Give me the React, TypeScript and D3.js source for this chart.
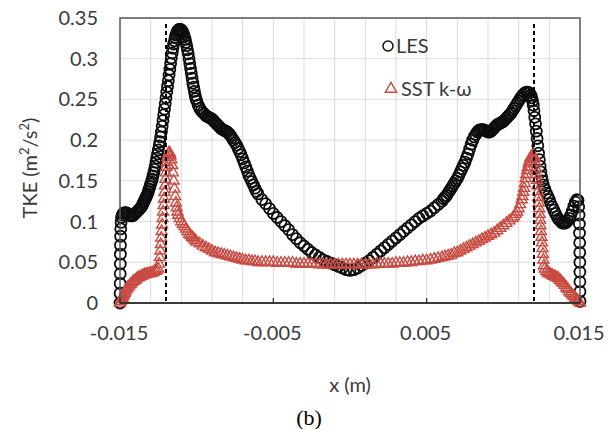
import React from "react";
import * as d3 from "d3";

// ---- data (x in m, TKE in m^2/s^2) ----
const lesPoints: [number, number][] = [
  [-0.015, 0.0], [-0.014995, 0.012], [-0.01499, 0.024], [-0.014985, 0.036], [-0.01498, 0.048],
  [-0.014975, 0.06], [-0.01497, 0.071], [-0.01496, 0.082], [-0.01495, 0.091], [-0.01493, 0.099],
  [-0.0149, 0.105], [-0.01485, 0.108], [-0.0148, 0.11], [-0.0147, 0.111], [-0.0146, 0.111],
  [-0.0145, 0.11], [-0.0144, 0.108], [-0.0143, 0.107], [-0.0142, 0.107], [-0.0141, 0.108],
  [-0.014, 0.11], [-0.0139, 0.112], [-0.0138, 0.114], [-0.0137, 0.116],
  [-0.0136, 0.118], [-0.01355, 0.12], [-0.0135, 0.122], [-0.01345, 0.124], [-0.0134, 0.126],
  [-0.01335, 0.128], [-0.0133, 0.13], [-0.01325, 0.132], [-0.0132, 0.134], [-0.01315, 0.137],
  [-0.0131, 0.14], [-0.01305, 0.143], [-0.013, 0.146], [-0.01295, 0.149], [-0.0129, 0.152],
  [-0.01285, 0.156], [-0.0128, 0.16], [-0.01275, 0.164], [-0.0127, 0.168], [-0.01265, 0.173],
  [-0.0126, 0.178], [-0.01255, 0.183], [-0.0125, 0.188], [-0.01245, 0.193], [-0.0124, 0.198],
  [-0.01235, 0.204], [-0.0123, 0.21], [-0.01225, 0.217], [-0.0122, 0.224], [-0.01215, 0.231],
  [-0.0121, 0.238], [-0.01205, 0.245], [-0.012, 0.252], [-0.01195, 0.259], [-0.0119, 0.266],
  [-0.01185, 0.273], [-0.0118, 0.28], [-0.01175, 0.287], [-0.0117, 0.294], [-0.01165, 0.301],
  [-0.0116, 0.307], [-0.01155, 0.313], [-0.0115, 0.318], [-0.01145, 0.322], [-0.0114, 0.326],
  [-0.01135, 0.329], [-0.0113, 0.332], [-0.01125, 0.334], [-0.0112, 0.335], [-0.01115, 0.336],
  [-0.0111, 0.336], [-0.01105, 0.336], [-0.011, 0.335], [-0.01095, 0.334], [-0.0109, 0.332],
  [-0.01085, 0.33], [-0.0108, 0.327], [-0.01075, 0.324], [-0.0107, 0.32], [-0.01065, 0.316],
  [-0.0106, 0.311], [-0.01055, 0.306], [-0.0105, 0.3], [-0.01045, 0.294], [-0.0104, 0.288],
  [-0.01035, 0.282], [-0.0103, 0.276], [-0.01025, 0.27], [-0.0102, 0.265], [-0.01015, 0.26],
  [-0.0101, 0.255], [-0.01005, 0.251], [-0.01, 0.248], [-0.0099, 0.243], [-0.0098, 0.239],
  [-0.0097, 0.236], [-0.0096, 0.234], [-0.0095, 0.232], [-0.0094, 0.23], [-0.0093, 0.229],
  [-0.0092, 0.228], [-0.0091, 0.227], [-0.009, 0.226], [-0.0089, 0.224], [-0.0088, 0.222],
  [-0.0087, 0.22], [-0.0086, 0.218], [-0.0085, 0.216], [-0.0084, 0.214], [-0.0083, 0.213],
  [-0.0082, 0.212], [-0.0081, 0.211], [-0.008, 0.21], [-0.0079, 0.208], [-0.0078, 0.206],
  [-0.0077, 0.203], [-0.0076, 0.2], [-0.0075, 0.197], [-0.0074, 0.194], [-0.0073, 0.19],
  [-0.0072, 0.186], [-0.0071, 0.182], [-0.007, 0.177], [-0.0069, 0.172], [-0.0068, 0.167],
  [-0.0067, 0.162], [-0.0066, 0.157], [-0.0065, 0.153], [-0.0064, 0.149], [-0.0063, 0.145],
  [-0.0062, 0.141], [-0.0061, 0.137], [-0.006, 0.134], [-0.00575, 0.127], [-0.0055, 0.122],
  [-0.00525, 0.116], [-0.005, 0.11], [-0.00475, 0.105], [-0.0045, 0.1], [-0.00425, 0.095],
  [-0.004, 0.09], [-0.00375, 0.084], [-0.0035, 0.079], [-0.00325, 0.074], [-0.003, 0.07],
  [-0.00275, 0.066], [-0.0025, 0.062], [-0.00225, 0.059], [-0.002, 0.056], [-0.00175, 0.053],
  [-0.0015, 0.051], [-0.00125, 0.049], [-0.001, 0.047], [-0.00075, 0.045], [-0.0005, 0.043],
  [-0.00025, 0.041], [0.0, 0.04], [0.00025, 0.041], [0.0005, 0.043], [0.00075, 0.046],
  [0.001, 0.049], [0.00125, 0.052], [0.0015, 0.056], [0.00175, 0.06], [0.002, 0.064],
  [0.00225, 0.068], [0.0025, 0.072], [0.00275, 0.076], [0.003, 0.08], [0.00325, 0.084],
  [0.0035, 0.088], [0.00375, 0.092], [0.004, 0.096], [0.00425, 0.1], [0.0045, 0.104],
  [0.00475, 0.107], [0.005, 0.11], [0.00525, 0.113], [0.0055, 0.117], [0.00575, 0.121],
  [0.006, 0.125], [0.0061, 0.128], [0.0062, 0.13], [0.0063, 0.132], [0.0064, 0.135],
  [0.0065, 0.138], [0.0066, 0.141], [0.0067, 0.144], [0.0068, 0.147], [0.0069, 0.15],
  [0.007, 0.153], [0.0071, 0.157], [0.0072, 0.161], [0.0073, 0.165], [0.0074, 0.169],
  [0.0075, 0.173], [0.0076, 0.178], [0.0077, 0.183], [0.0078, 0.189], [0.0079, 0.195],
  [0.008, 0.2], [0.0081, 0.204], [0.0082, 0.207], [0.0083, 0.21], [0.0084, 0.212],
  [0.0085, 0.213], [0.0086, 0.213], [0.0087, 0.213], [0.0088, 0.212], [0.0089, 0.211],
  [0.009, 0.21], [0.0091, 0.21], [0.0092, 0.211], [0.0093, 0.213], [0.0094, 0.215],
  [0.0095, 0.217], [0.0096, 0.219], [0.0097, 0.22], [0.0098, 0.221], [0.0099, 0.222],
  [0.01, 0.223], [0.0101, 0.225], [0.0102, 0.227], [0.0103, 0.229], [0.0104, 0.231],
  [0.0105, 0.233], [0.0106, 0.236], [0.0107, 0.239], [0.0108, 0.242], [0.0109, 0.245],
  [0.011, 0.248], [0.0111, 0.251], [0.0112, 0.254], [0.0113, 0.256], [0.0114, 0.258],
  [0.0115, 0.259], [0.0116, 0.259], [0.0117, 0.258], [0.0118, 0.255], [0.01185, 0.252],
  [0.0119, 0.248], [0.01195, 0.243], [0.012, 0.236], [0.01205, 0.228], [0.0121, 0.22],
  [0.01215, 0.211], [0.0122, 0.202], [0.01225, 0.193], [0.0123, 0.184], [0.01235, 0.176],
  [0.0124, 0.168], [0.01245, 0.161], [0.0125, 0.155], [0.01255, 0.15], [0.0126, 0.145],
  [0.0127, 0.14], [0.0128, 0.135], [0.0129, 0.131], [0.013, 0.127], [0.0131, 0.122],
  [0.0132, 0.118], [0.0133, 0.114], [0.0134, 0.11], [0.0135, 0.106], [0.0136, 0.103],
  [0.0137, 0.101], [0.0138, 0.099], [0.0139, 0.098], [0.014, 0.098], [0.0141, 0.099],
  [0.0142, 0.101], [0.0143, 0.104], [0.0144, 0.108], [0.0145, 0.113], [0.0146, 0.119],
  [0.0147, 0.124], [0.0148, 0.127], [0.01487, 0.126], [0.01491, 0.118], [0.01494, 0.108],
  [0.01496, 0.097], [0.01497, 0.086], [0.01498, 0.074], [0.014985, 0.062], [0.01499, 0.05],
  [0.014993, 0.038], [0.014996, 0.026], [0.014998, 0.014], [0.015, 0.002],
];

const sstPoints: [number, number][] = [
  [-0.015, 0.0], [-0.01495, 0.002], [-0.0149, 0.004], [-0.01485, 0.006], [-0.0148, 0.008],
  [-0.01475, 0.01], [-0.0147, 0.012], [-0.01465, 0.014], [-0.0146, 0.016], [-0.01455, 0.018],
  [-0.0145, 0.019], [-0.0144, 0.021], [-0.0143, 0.023], [-0.0142, 0.025], [-0.0141, 0.027],
  [-0.014, 0.028], [-0.0139, 0.03], [-0.0138, 0.031], [-0.0137, 0.032], [-0.0136, 0.033],
  [-0.0135, 0.034], [-0.0134, 0.035], [-0.0133, 0.035], [-0.0132, 0.036], [-0.0131, 0.036],
  [-0.013, 0.037], [-0.0129, 0.037], [-0.0128, 0.038], [-0.0127, 0.039], [-0.0126, 0.04],
  [-0.0125, 0.042], [-0.01245, 0.048], [-0.0124, 0.056], [-0.01237, 0.064], [-0.01234, 0.072],
  [-0.01231, 0.08], [-0.01228, 0.088], [-0.01225, 0.096], [-0.01222, 0.104], [-0.01219, 0.112],
  [-0.01216, 0.12], [-0.01213, 0.128], [-0.0121, 0.136], [-0.01207, 0.144], [-0.01204, 0.152],
  [-0.01201, 0.16], [-0.01198, 0.167], [-0.01195, 0.173], [-0.0119, 0.179], [-0.01185, 0.183],
  [-0.0118, 0.185], [-0.01175, 0.184], [-0.0117, 0.181], [-0.01165, 0.176], [-0.0116, 0.169],
  [-0.01155, 0.16], [-0.0115, 0.15], [-0.01145, 0.14], [-0.0114, 0.131], [-0.01135, 0.123],
  [-0.0113, 0.117], [-0.01125, 0.112], [-0.0112, 0.108], [-0.0111, 0.104], [-0.011, 0.1],
  [-0.0109, 0.097], [-0.0108, 0.094], [-0.0107, 0.091], [-0.0106, 0.088], [-0.0105, 0.085],
  [-0.0104, 0.083], [-0.0103, 0.081], [-0.0102, 0.079], [-0.0101, 0.077], [-0.01, 0.075],
  [-0.0098, 0.073], [-0.0096, 0.07], [-0.0094, 0.068], [-0.0092, 0.066], [-0.009, 0.064],
  [-0.0088, 0.062], [-0.0086, 0.061], [-0.0084, 0.06], [-0.0082, 0.059], [-0.008, 0.058],
  [-0.0078, 0.057], [-0.0076, 0.056], [-0.0074, 0.055], [-0.0072, 0.054], [-0.007, 0.053],
  [-0.0068, 0.052], [-0.0066, 0.052], [-0.0064, 0.051], [-0.0062, 0.051], [-0.006, 0.05],
  [-0.00575, 0.05], [-0.0055, 0.05], [-0.00525, 0.05], [-0.005, 0.05], [-0.00475, 0.049],
  [-0.0045, 0.049], [-0.00425, 0.049], [-0.004, 0.049], [-0.00375, 0.049], [-0.0035, 0.048],
  [-0.00325, 0.048], [-0.003, 0.048], [-0.00275, 0.048], [-0.0025, 0.048], [-0.00225, 0.048],
  [-0.002, 0.047], [-0.00175, 0.047], [-0.0015, 0.047], [-0.00125, 0.047], [-0.001, 0.047],
  [-0.00075, 0.047], [-0.0005, 0.047], [-0.00025, 0.047], [0.0, 0.047], [0.00025, 0.047],
  [0.0005, 0.047], [0.00075, 0.047], [0.001, 0.047], [0.00125, 0.047], [0.0015, 0.047],
  [0.00175, 0.048], [0.002, 0.048], [0.00225, 0.048], [0.0025, 0.048], [0.00275, 0.048],
  [0.003, 0.049], [0.00325, 0.049], [0.0035, 0.049], [0.00375, 0.05], [0.004, 0.05],
  [0.00425, 0.051], [0.0045, 0.051], [0.00475, 0.052], [0.005, 0.052], [0.00525, 0.053],
  [0.0055, 0.054], [0.00575, 0.055], [0.006, 0.056], [0.0062, 0.057], [0.0064, 0.058],
  [0.0066, 0.059], [0.0068, 0.061], [0.007, 0.062], [0.0072, 0.064], [0.0074, 0.066],
  [0.0076, 0.068], [0.0078, 0.07], [0.008, 0.072], [0.0082, 0.074], [0.0084, 0.076],
  [0.0086, 0.078], [0.0088, 0.08], [0.009, 0.082], [0.0092, 0.084], [0.0094, 0.086],
  [0.0096, 0.089], [0.0098, 0.092], [0.01, 0.095], [0.0102, 0.098], [0.0104, 0.101],
  [0.0106, 0.104], [0.0107, 0.106], [0.0108, 0.109], [0.0109, 0.112], [0.011, 0.116],
  [0.0111, 0.121], [0.0112, 0.127], [0.01125, 0.131], [0.0113, 0.136], [0.01135, 0.141],
  [0.0114, 0.147], [0.01145, 0.153], [0.0115, 0.158], [0.01155, 0.163], [0.0116, 0.167],
  [0.01165, 0.171], [0.0117, 0.174], [0.01175, 0.177], [0.0118, 0.179], [0.01185, 0.18],
  [0.0119, 0.181], [0.01195, 0.181], [0.012, 0.18], [0.01205, 0.178], [0.0121, 0.172],
  [0.01213, 0.165], [0.01216, 0.158], [0.01219, 0.151], [0.01222, 0.144], [0.01225, 0.137],
  [0.01228, 0.13], [0.01231, 0.123], [0.01234, 0.116], [0.01237, 0.109], [0.0124, 0.102],
  [0.01243, 0.095], [0.01246, 0.088], [0.01249, 0.081], [0.01252, 0.074], [0.01255, 0.067],
  [0.01258, 0.06], [0.01261, 0.053], [0.01265, 0.046], [0.0127, 0.042], [0.0128, 0.039],
  [0.0129, 0.037], [0.013, 0.036], [0.0131, 0.035], [0.0132, 0.034], [0.0133, 0.033],
  [0.0134, 0.032], [0.0135, 0.031], [0.0136, 0.03], [0.0137, 0.028], [0.0138, 0.026],
  [0.0139, 0.024], [0.014, 0.022], [0.0141, 0.019], [0.0142, 0.017], [0.0143, 0.014],
  [0.0144, 0.012], [0.0145, 0.01], [0.0146, 0.008], [0.0147, 0.006], [0.0148, 0.004],
  [0.0149, 0.002], [0.015, 0.0],
];

const xTickLabels = [-0.015, -0.005, 0.005, 0.015];
const xGridValues = [-0.015, -0.013, -0.011, -0.009, -0.007, -0.005, -0.003, -0.001, 0.001, 0.003, 0.005, 0.007, 0.009, 0.011, 0.013, 0.015];
const yTickValues = [0, 0.05, 0.1, 0.15, 0.2, 0.25, 0.3, 0.35];
const wallLines = [-0.012, 0.012];
const seriesNames = ["LES", "SST k-ω"];

const W = 614;
const H = 429;
const left = 120;
const right = 580;
const top = 18;
const bottom = 303;
const RED = "#c84b42";
const FONT = "Lato, 'Open Sans', sans-serif";
const TXT = "#3a3a3a";

export default function App() {
  const x = d3.scaleLinear().domain([-0.015, 0.015]).range([left, right]);
  const y = d3.scaleLinear().domain([0, 0.35]).range([bottom, top]);
  const tri = d3.symbol().type(d3.symbolTriangle).size(52)() as string;
  const triLegend = d3.symbol().type(d3.symbolTriangle).size(56)() as string;
  const fmt = (v: number) => (v === 0 ? "0" : String(v));

  return (
    <svg width={W} height={H} style={{ position: "absolute", left: 0, top: 0, background: "#fff" }}>
      {/* gridlines */}
      <g stroke="#dcdcdc" strokeWidth={1}>
        {xGridValues.map((v) => (
          <line key={"gx" + v} x1={x(v)} x2={x(v)} y1={top} y2={bottom} />
        ))}
        {yTickValues.map((v) => (
          <line key={"gy" + v} x1={left} x2={right} y1={y(v)} y2={y(v)} />
        ))}
      </g>

      {/* LES series */}
      <g fill="none" stroke="#0d0d0d" strokeWidth={1.8}>
        {lesPoints.map(([px, pv], i) => (
          <circle key={"l" + i} cx={x(px)} cy={y(pv)} r={5.5} />
        ))}
      </g>

      {/* SST series */}
      <g fill="none" stroke={RED} strokeWidth={1.4}>
        {sstPoints.map(([px, pv], i) => (
          <path key={"s" + i} d={tri} transform={`translate(${x(px)},${y(pv)})`} />
        ))}
      </g>

      {/* wall dashed lines */}
      <g stroke="#000" strokeWidth={2} strokeDasharray="4,3">
        {wallLines.map((v) => (
          <line key={"w" + v} x1={x(v)} x2={x(v)} y1={top + 6} y2={bottom} />
        ))}
      </g>

      {/* frame */}
      <rect x={left} y={top} width={right - left} height={bottom - top} fill="none" stroke="#595959" strokeWidth={1.5} />
      <line x1={left} x2={right} y1={bottom} y2={bottom} stroke="#262626" strokeWidth={1.5} />
      {xTickLabels.map((v) => (
        <line key={"t" + v} x1={x(v)} x2={x(v)} y1={bottom} y2={bottom - 5} stroke="#262626" strokeWidth={1.2} />
      ))}

      {/* y tick labels */}
      <g fontFamily={FONT} fontSize={20} fill={TXT} textAnchor="end">
        {yTickValues.map((v) => (
          <text key={"yl" + v} x={98} y={y(v) + 7}>
            {fmt(v)}
          </text>
        ))}
      </g>
      {/* x tick labels */}
      <g fontFamily={FONT} fontSize={20} fill={TXT} textAnchor="middle">
        {xTickLabels.map((v) => (
          <text key={"xl" + v} x={x(v) - 1} y={340}>
            {fmt(v)}
          </text>
        ))}
      </g>

      {/* axis titles */}
      <text x={350} y={392} fontFamily={FONT} fontSize={20} fill={TXT} textAnchor="middle">
        x (m)
      </text>
      <text
        transform="translate(37,168) rotate(-90)"
        fontFamily={FONT}
        fontSize={20}
        fill={TXT}
        textAnchor="middle"
      >
        TKE (m<tspan fontSize={13} dy={-8}>2</tspan>
        <tspan dy={8}>/s</tspan>
        <tspan fontSize={13} dy={-8}>2</tspan>
        <tspan dy={8}>)</tspan>
      </text>

      {/* legend */}
      <circle cx={388} cy={46} r={5} fill="none" stroke="#111" strokeWidth={1.5} />
      <text x={396} y={53} fontFamily={FONT} fontSize={20} fill={TXT}>
        {seriesNames[0]}
      </text>
      <path d={triLegend} transform="translate(391,89)" fill="none" stroke={RED} strokeWidth={1.4} />
      <text x={401} y={96} fontFamily={FONT} fontSize={20} fill={TXT}>
        {seriesNames[1]}
      </text>

      {/* panel label */}
      <text x={309} y={425} fontFamily="'Liberation Serif', 'Times New Roman', serif" fontSize={22} fill="#000" textAnchor="middle">
        (b)
      </text>
    </svg>
  );
}
